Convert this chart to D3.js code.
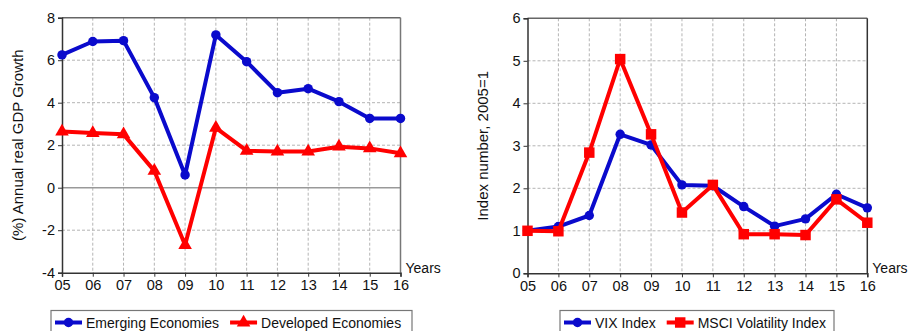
<!DOCTYPE html>
<html>
<head>
<meta charset="utf-8">
<script src="https://cdn.jsdelivr.net/npm/d3@7"></script>
<style>
  body { margin: 0; background: #fff; }
  svg { display: block; font-family: "Liberation Sans", Arial, sans-serif; }
</style>
</head>
<body>
<svg id="chart" width="908" height="331"></svg>
<script>
// Years on the x axis (both panels)
const years = ["05", "06", "07", "08", "09", "10", "11", "12", "13", "14", "15", "16"];

// Left panel: annual real GDP growth (%)
const emerging = [6.25, 6.88, 6.92, 4.24, 0.6, 7.19, 5.93, 4.47, 4.66, 4.05, 3.26, 3.26];
const developed = [2.64, 2.57, 2.51, 0.79, -2.7, 2.82, 1.74, 1.70, 1.70, 1.93, 1.85, 1.62];
const gdpTicks = [-4, -2, 0, 2, 4, 6, 8];

// Right panel: volatility indices, 2005 = 1
const vix = [1.0, 1.1, 1.36, 3.27, 3.02, 2.08, 2.06, 1.57, 1.11, 1.28, 1.86, 1.54];
const msci = [1.0, 0.99, 2.84, 5.04, 3.27, 1.43, 2.08, 0.92, 0.92, 0.9, 1.74, 1.19];
const indexTicks = [0, 1, 2, 3, 4, 5, 6];

const blue = "#0a0acc";
const red = "#ff0000";

const svg = d3.select("#chart");

function drawPanel(opts) {
    const g = svg.append("g");
    const x = d3.scalePoint().domain(years).range([opts.left, opts.right]);
    const y = d3.scaleLinear().domain(opts.domain).range([opts.bottom, opts.top]);

    // grid
    g.selectAll(".vgrid").data(years.slice(1, -1)).enter().append("line")
        .attr("x1", d => x(d)).attr("x2", d => x(d))
        .attr("y1", opts.top).attr("y2", opts.bottom)
        .attr("stroke", "#b4b4b4").attr("stroke-dasharray", "3,2");
    g.selectAll(".hgrid").data(opts.ticks.slice(1, -1)).enter().append("line")
        .attr("x1", opts.left).attr("x2", opts.right)
        .attr("y1", d => y(d)).attr("y2", d => y(d))
        .attr("stroke", d => d === 0 ? "#999" : "#b4b4b4")
        .attr("stroke-width", d => d === 0 ? 1.5 : 1)
        .attr("stroke-dasharray", d => d === 0 ? null : "3,2");

    // frame top / right
    g.append("line").attr("x1", opts.left).attr("x2", opts.right)
        .attr("y1", opts.top).attr("y2", opts.top).attr("stroke", "#666").attr("stroke-width", 1.5);
    g.append("line").attr("x1", opts.right).attr("x2", opts.right)
        .attr("y1", opts.top).attr("y2", opts.bottom).attr("stroke", opts.rightColor).attr("stroke-width", 1.5);

    // axes
    const yAxis = g.append("g").attr("transform", `translate(${opts.left},0)`)
        .call(d3.axisLeft(y).tickValues(opts.ticks).tickFormat(d => String(d))
            .tickSize(4).tickPadding(3));
    const xAxis = g.append("g").attr("transform", `translate(0,${opts.bottom})`)
        .call(d3.axisBottom(x).tickSize(4).tickPadding(3));
    [yAxis, xAxis].forEach(a => {
        a.select(".domain").attr("stroke", "#333").attr("stroke-width", 1.5);
        a.selectAll(".tick line").attr("stroke", "#333");
        a.selectAll("text").style("font-size", "14.5px").attr("fill", "#111")
            .style("font-family", "Liberation Sans, Arial, sans-serif");
    });

    g.append("text").attr("x", opts.right + 5).attr("y", opts.bottom)
        .style("font-size", "14px").attr("fill", "#111").text("Years");

    g.append("text")
        .attr("transform", `translate(${opts.titleX},${(opts.top + opts.bottom) / 2}) rotate(-90)`)
        .attr("text-anchor", "middle").attr("dy", "0.35em")
        .style("font-size", "15px").attr("fill", "#111").text(opts.title);

    const line = d3.line().x((d, i) => x(years[i])).y(d => y(d));

    opts.series.forEach(s => {
        g.append("path").datum(s.values).attr("d", line)
            .attr("fill", "none").attr("stroke", s.color).attr("stroke-width", 4)
            .attr("stroke-linejoin", "round");
        const sym = d3.symbol().type(s.symbol).size(s.size);
        g.selectAll(null).data(s.values).enter().append("path")
            .attr("d", sym)
            .attr("transform", (d, i) => `translate(${x(years[i])},${y(d)})`)
            .attr("fill", s.color);
    });

    // legend
    const lg = g.append("g");
    lg.append("rect").attr("x", opts.legend.x).attr("y", 310.5)
        .attr("width", opts.legend.w).attr("height", 30)
        .attr("fill", "#fff").attr("stroke", "#777").attr("stroke-width", 1.2);
    let cx = opts.legend.x + 4;
    opts.series.forEach(s => {
        lg.append("line").attr("x1", cx).attr("x2", cx + 27)
            .attr("y1", 322.5).attr("y2", 322.5)
            .attr("stroke", s.color).attr("stroke-width", 4);
        lg.append("path").attr("d", d3.symbol().type(s.symbol).size(s.size)())
            .attr("transform", `translate(${cx + 13.5},322.5)`).attr("fill", s.color);
        const t = lg.append("text").attr("x", cx + 31).attr("y", 322.5).attr("dy", "0.36em")
            .style("font-size", "14px").attr("fill", "#111").text(s.label);
        cx += 31 + t.node().getComputedTextLength() + 11;
    });
}

drawPanel({
    left: 62, right: 400.5, top: 17.7, bottom: 272.7,
    domain: [-4, 8], ticks: gdpTicks, rightColor: "#777",
    titleX: 18, title: "(%) Annual real GDP Growth",
    legend: { x: 51, w: 361 },
    series: [
        { values: emerging, color: blue, symbol: d3.symbolCircle, size: 70, label: "Emerging Economies" },
        { values: developed, color: red, symbol: d3.symbolTriangle, size: 80, label: "Developed Economies" }
    ]
});

drawPanel({
    left: 527.5, right: 867.3, top: 18.3, bottom: 273.3,
    domain: [0, 6], ticks: indexTicks, rightColor: "#333",
    titleX: 483, title: "Index number, 2005=1",
    legend: { x: 560, w: 274 },
    series: [
        { values: vix, color: blue, symbol: d3.symbolCircle, size: 70, label: "VIX Index" },
        { values: msci, color: red, symbol: d3.symbolSquare, size: 110, label: "MSCI Volatility Index" }
    ]
});
</script>
</body>
</html>
